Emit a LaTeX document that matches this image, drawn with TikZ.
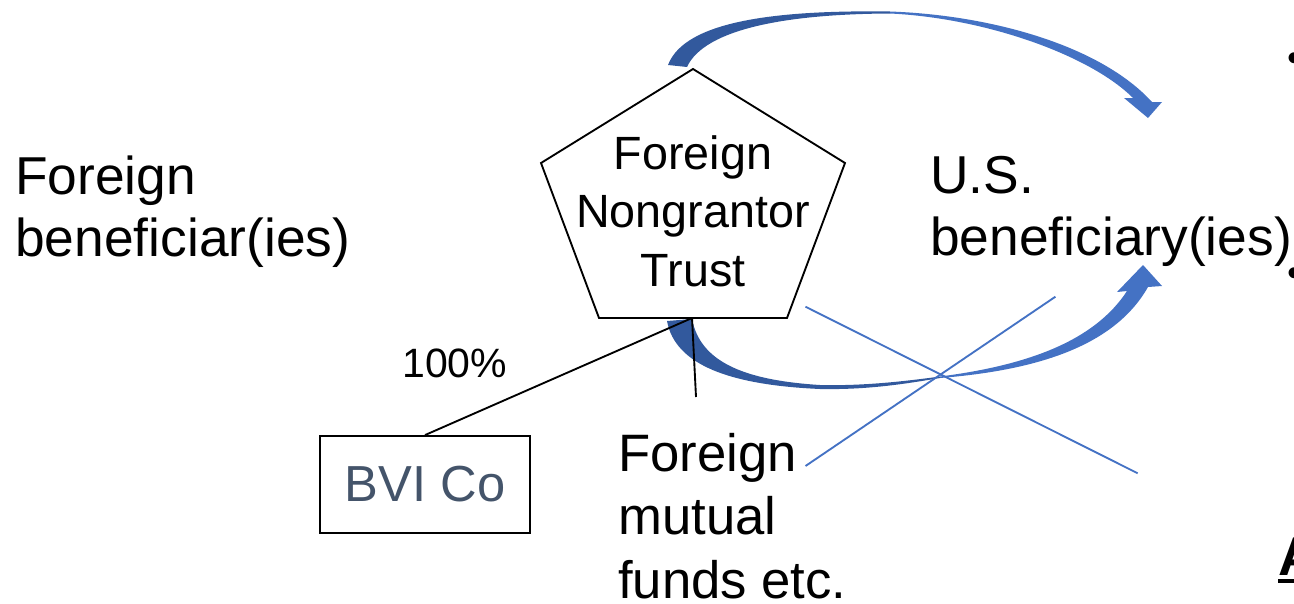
\documentclass[tikz,border=0pt]{standalone}
\usepackage{fontspec}
\setmainfont{Liberation Sans}
\definecolor{arrowdark}{RGB}{50,89,157}
\definecolor{arrowlight}{RGB}{68,114,196}
\definecolor{slate}{RGB}{68,84,106}
\begin{document}
\begin{tikzpicture}[x=0.75pt,y=-0.75pt,
  lbl/.style={font=\fontsize{40}{46.5}\selectfont, align=left, inner sep=0pt, anchor=north west},
  fundlbl/.style={font=\fontsize{39.5}{47.6}\selectfont, align=left, inner sep=0pt, anchor=north west},
  trusttext/.style={font=\fontsize{35}{43.9}\selectfont, align=center, inner sep=0pt, anchor=north},
  outline/.style={draw=black, line width=1.4pt},
  xline/.style={draw=arrowlight, line width=1.4pt},
  bvibox/.style={draw=black, line width=1.4pt, minimum width=157.5pt, minimum height=72.75pt,
    inner sep=0pt, font=\fontsize{38}{44}\selectfont, text=slate},
  bulletmark/.style={inner sep=0pt, font=\fontsize{30}{36}\selectfont}]
\useasboundingbox (0,0) rectangle (1294,603);

% curved block arrows (drawn first)
\fill[arrowdark] (668,65) .. controls (685,20) and (780,10) .. (890,11.5)
  -- (890,13.5) .. controls (790,14) and (705,28) .. (687,67) -- cycle;
\fill[arrowlight] (890,11.5) .. controls (990,15) and (1100,45) .. (1152,102)
  -- (1162,102) -- (1148,118) -- (1124,98) -- (1133,98)
  .. controls (1090,55) and (985,18) .. (890,13.5) -- cycle;
\fill[arrowdark] (667,321) .. controls (675,365) and (730,385) .. (820,389)
  .. controls (870,390) and (910,383) .. (940,378)
  -- (940,376.5) .. controls (900,382) and (860,386) .. (820,385)
  .. controls (740,380) and (700,360) .. (692,319) -- cycle;
\fill[arrowlight] (940,378) .. controls (1040,370) and (1115,345) .. (1148,287)
  -- (1162,286) -- (1143,265) -- (1117,292) -- (1127,291)
  .. controls (1095,340) and (1030,365) .. (940,376.5) -- cycle;

% pentagon
\coordinate (pt) at (693,69);
\coordinate (pr) at (845,163);
\coordinate (pbr) at (787,318);
\coordinate (pbl) at (599,318);
\coordinate (pl) at (541,163);
\coordinate (pb) at (692,318);
\filldraw[outline, fill=white] (pt) -- (pr) -- (pbr) -- (pbl) -- (pl) -- cycle;
\node[trusttext] (trust) at (693,135) {Foreign\\Nongrantor\\Trust};

% labels
\node[lbl] (foreignben) at (15,156) {Foreign\\beneficiar(ies)};
\node[lbl] (usben) at (930,156) {U.S.\\beneficiary(ies)};
\node[inner sep=0pt, anchor=base west, font=\fontsize{30.75}{36}\selectfont] (pct) at (402,377) {100\%};
\node[fundlbl] (funds) at (618,433) {Foreign\\mutual\\funds etc.};
\node[bvibox] (bvi) at (425,484.5) {BVI Co};

% connectors
\coordinate (vend) at (696,397);
\draw[outline] (bvi.north) -- (pb);
\draw[outline] (pb) -- (vend);

% crossing lines
\coordinate (x1a) at (805.5,306.7);
\coordinate (x1b) at (1137.7,473.3);
\coordinate (x2a) at (805.5,466);
\coordinate (x2b) at (1055.4,296.7);
\draw[xline] (x1a) -- (x1b);
\draw[xline] (x2a) -- (x2b);

% cut-off items at the right edge
\node[bulletmark] (b1) at (1294,62) {•};
\node[bulletmark] (b2) at (1294,277) {•};
\node[inner sep=0pt, anchor=base west, font=\fontsize{41}{48}\selectfont\bfseries] (bigA) at (1278,575)
  {\rlap{\rule[-6pt]{30pt}{3pt}}A};
\end{tikzpicture}
\end{document}
